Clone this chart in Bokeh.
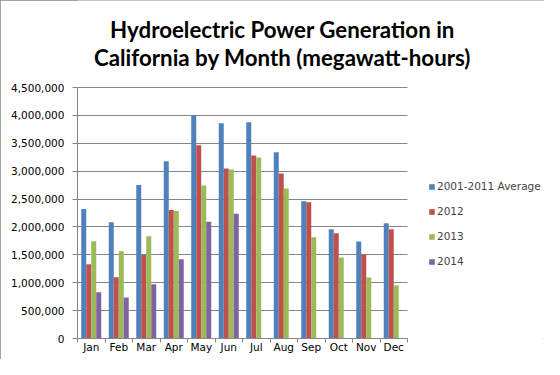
from bokeh.plotting import figure
from bokeh.models import (Label, Legend, LegendItem, FixedTicker, NumeralTickFormatter,
                          Range1d, ColumnDataSource)
from bokeh.transform import dodge
from bokeh.embed import file_html
from bokeh.resources import INLINE

months = ["Jan", "Feb", "Mar", "Apr", "May", "Jun", "Jul", "Aug", "Sep", "Oct", "Nov", "Dec"]
avg_2001_2011 = [2320000, 2085000, 2750000, 3178000, 4003000, 3860000,
                 3877000, 3337000, 2461000, 1957000, 1741000, 2065000]
y2012 = [1330000, 1097000, 1499000, 2302000, 3463000, 3049000,
         3283000, 2959000, 2443000, 1885000, 1507000, 1957000]
y2013 = [1745000, 1565000, 1835000, 2284000, 2742000, 3031000,
         3247000, 2689000, 1813000, 1453000, 1092000, 948000]
y2014 = [827000, 737000, 971000, 1421000, 2094000, 2238000]

series_names = ["2001-2011 Average", "2012", "2013", "2014"]
colors = ["#4F81BD", "#C0504D", "#9BBB59", "#8064A2"]
y_ticks = list(range(0, 4500001, 500000))
title_lines = ["Hydroelectric Power Generation in", "California by Month (megawatt-hours)"]

FONT = "DejaVu Sans"
GRAY = "#868686"

# layout (pixels): the frame covers title and legend areas too;
# axis and grid are bounded to the plotted categories / values
W, H = 544, 359
LEFT, BOTTOM = 77, 21
plot_w, plot_h = 330, 251
frame_w, frame_h = W - LEFT, H - BOTTOM
x_lo, x_hi_cat = 0.5, 12.5
x_hi = x_lo + (x_hi_cat - x_lo) * frame_w / plot_w
y_max = 4500000
y_hi = y_max * frame_h / plot_h

p = figure(width=W, height=H, output_backend="svg", toolbar_location=None,
           x_range=Range1d(x_lo, x_hi), y_range=Range1d(0, y_hi),
           min_border_left=LEFT, min_border_right=0, min_border_top=0,
           min_border_bottom=BOTTOM)
p.styles = {"outline": "1px solid #868686", "outline-offset": "-1px"}
p.outline_line_color = None
p.background_fill_color = "white"
p.border_fill_color = "white"

w = 1 / 5.5
x_idx = list(range(1, 13))
all_series = [avg_2001_2011, y2012, y2013, y2014]
renderers = []
for i, vals in enumerate(all_series):
    src = ColumnDataSource(dict(x=x_idx[:len(vals)], top=vals))
    r = p.vbar(x=dodge("x", (i - 1.5) * w, range=p.x_range), top="top", width=w,
               source=src, fill_color=colors[i], line_color=None)
    renderers.append(r)

# grid and axes
p.xgrid.visible = False
p.ygrid.grid_line_color = GRAY
p.ygrid.ticker = FixedTicker(ticks=y_ticks)
p.ygrid.cross_bounds = (x_lo, x_hi_cat)

yax = p.yaxis[0]
yax.bounds = (0, y_max)
yax.ticker = FixedTicker(ticks=y_ticks)
yax.formatter = NumeralTickFormatter(format="0,0")
yax.axis_line_color = GRAY
yax.major_tick_line_color = GRAY
yax.major_tick_out = 5
yax.major_tick_in = 0
yax.minor_tick_line_color = None
yax.major_label_text_font = FONT
yax.major_label_text_font_size = "10.5px"
yax.major_label_text_color = "black"
yax.major_label_standoff = 8

xax = p.xaxis[0]
xax.bounds = (x_lo, x_hi_cat)
xax.ticker = FixedTicker(ticks=x_idx, minor_ticks=[k + 0.5 for k in range(0, 13)])
xax.major_label_overrides = {k: m for k, m in zip(x_idx, months)}
xax.axis_line_color = GRAY
xax.major_tick_line_color = None
xax.major_tick_out = 0
xax.major_tick_in = 0
xax.minor_tick_line_color = GRAY
xax.minor_tick_out = 4
xax.minor_tick_in = 0
xax.major_label_text_font = FONT
xax.major_label_text_font_size = "10.5px"
xax.major_label_text_color = "black"
xax.major_label_standoff = -2

# title: two centred lines (screen units from the frame's bottom-left)
title_cx = 282 - LEFT
for txt, top_y in zip(title_lines, [29, 57]):
    p.add_layout(Label(x=title_cx, y=frame_h - top_y, x_units="screen", y_units="screen",
                       text=txt, text_align="center", text_baseline="alphabetic",
                       text_font="Lato", text_font_size="22.3px", text_font_style="bold",
                       text_color="black"))

legend = Legend(items=[LegendItem(label=n, renderers=[r]) for n, r in zip(series_names, renderers)],
                location=(plot_w + 21, 67), glyph_width=7, glyph_height=7, label_standoff=2,
                padding=0, margin=0, spacing=5, label_height=20,
                border_line_color=None, background_fill_alpha=0,
                label_text_font=FONT, label_text_font_size="10.5px")
p.add_layout(legend, "center")

open("out.html", "w").write(file_html(p, INLINE))
